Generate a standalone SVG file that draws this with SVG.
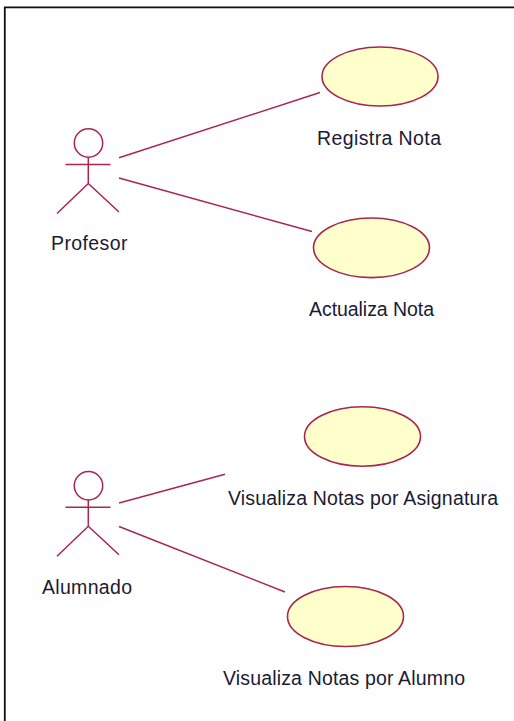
<svg xmlns="http://www.w3.org/2000/svg" width="514" height="721" viewBox="0 0 514 721">
<style>
.ln{fill:none;stroke:#a9264f;stroke-width:1.5}
.uc{fill:#ffffcb;stroke:#a9264f;stroke-width:1.6}
.lb{font-family:"Liberation Sans",Arial,sans-serif;font-size:19.5px;fill:#1b1b33}
</style>
<defs>
<g id="actor" class="ln">
<circle cx="88.500" cy="143" r="14.200"/>
<path d="M65.500 164.500H110.500M88.300 157V183.500M88.300 183.500L57 213.500M88.300 183.500L119 212"/>
</g>
</defs>
<rect width="514" height="721" fill="#fff"/>
<path d="M4.800 721V7.300H514" fill="none" stroke="#111" stroke-width="1.800"/>
<g id="connectors" class="ln">
<path d="M119 157.800L320 92.500"/>
<path d="M119 178L312 231.500"/>
<path d="M119 503L225 474.300"/>
<path d="M119 526.500L285 592"/>
</g>
<g id="actor-profesor">
<use href="#actor"/>
<text class="lb" x="51" y="250" textLength="76.500">Profesor</text>
</g>
<g id="actor-alumnado">
<use href="#actor" y="342.800"/>
<text class="lb" x="42" y="594" textLength="90">Alumnado</text>
</g>
<g id="uc-registra">
<ellipse class="uc" cx="380" cy="76.500" rx="58" ry="29.500"/>
<text class="lb" x="317" y="145" textLength="124">Registra Nota</text>
</g>
<g id="uc-actualiza">
<ellipse class="uc" cx="371.500" cy="247.800" rx="58" ry="29.800"/>
<text class="lb" x="309" y="316" textLength="125">Actualiza Nota</text>
</g>
<g id="uc-asignatura">
<ellipse class="uc" cx="362.500" cy="436.500" rx="58" ry="29.800"/>
<text class="lb" x="228" y="505" textLength="270">Visualiza Notas por Asignatura</text>
</g>
<g id="uc-alumno">
<ellipse class="uc" cx="345.500" cy="616.500" rx="58" ry="30"/>
<text class="lb" x="223" y="685" textLength="242">Visualiza Notas por Alumno</text>
</g>
</svg>
